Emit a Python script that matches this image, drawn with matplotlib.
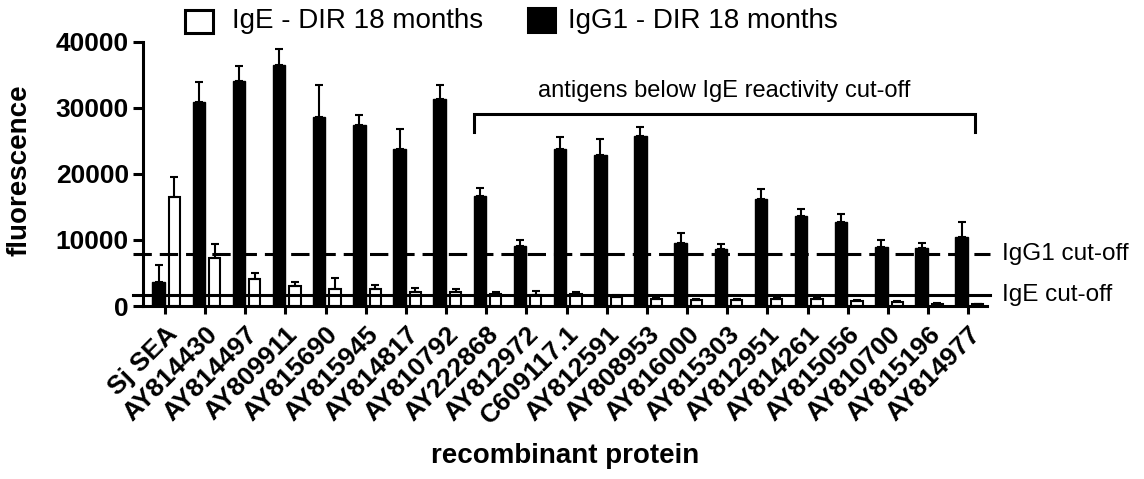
import matplotlib
matplotlib.use("Agg")
import matplotlib.pyplot as plt
from matplotlib.patches import Rectangle
import numpy as np

plt.rcParams['font.family'] = ['Liberation Sans', 'DejaVu Sans']

categories = ["Sj SEA", "AY814430", "AY814497", "AY809911", "AY815690", "AY815945",
              "AY814817", "AY810792", "AY222868", "AY812972", "C609117.1", "AY812591",
              "AY808953", "AY816000", "AY815303", "AY812951", "AY814261", "AY815056",
              "AY810700", "AY815196", "AY814977"]

ige_name = "IgE - DIR 18 months"
igg1_name = "IgG1 - DIR 18 months"

igg1_mean = [3700, 30900, 34050, 36400, 28650, 27400, 23700, 31300, 16600, 9150, 23750,
             22850, 25700, 9500, 8600, 16200, 13650, 12750, 9000, 8800, 10500]
igg1_err = [2500, 3000, 2200, 2450, 4800, 1500, 3150, 2150, 1250, 850, 1850,
            2450, 1400, 1600, 800, 1500, 1000, 1100, 1000, 800, 2150]

ige_mean = [16450, 7200, 4050, 3050, 2550, 2550, 2150, 2050, 1800, 1700, 1800,
            1400, 1000, 900, 900, 1000, 1000, 800, 650, 350, 250]
ige_err = [3100, 2250, 900, 600, 1750, 600, 500, 450, 300, 600, 250,
           200, 150, 150, 200, 200, 200, 150, 120, 80, 60]

igg1_cutoff = 7800
ige_cutoff = 1600
bracket_label = "antigens below IgE reactivity cut-off"
bracket_first = "AY222868"

W, H = 1144, 479
fig = plt.figure(figsize=(W / 100, H / 100), dpi=100)
ax = fig.add_axes([143 / W, 1 - 306 / H, 844 / W, 264.3 / H])

x = np.arange(len(categories))
bw = 0.31
lw_axis = 2.2

ax.bar(x - 0.16, igg1_mean, width=bw, color='black', edgecolor='black',
       linewidth=1.0, zorder=2)
ax.bar(x + 0.235, ige_mean, width=0.28, color='white', edgecolor='black',
       linewidth=1.5, zorder=2)
ax.errorbar(x - 0.16, igg1_mean, yerr=[np.zeros(len(x)), igg1_err], fmt='none',
            ecolor='black', elinewidth=1.5, capsize=2.6, capthick=1.5, zorder=3)
ax.errorbar(x + 0.235, ige_mean, yerr=[np.zeros(len(x)), ige_err], fmt='none',
            ecolor='black', elinewidth=1.5, capsize=2.6, capthick=1.5, zorder=3)

# cut-off lines
xl0, xl1 = -0.80, 20.55
ax.plot([xl0, xl1], [igg1_cutoff, igg1_cutoff], color='black', lw=2.2,
        dashes=(6, 2.6), clip_on=False, zorder=4)
ax.plot([xl0, xl1], [ige_cutoff, ige_cutoff], color='black', lw=2.2,
        clip_on=False, zorder=4)

ax.set_xlim(-0.548, 20.47)
ax.set_ylim(0, 40000)
ax.set_yticks([0, 10000, 20000, 30000, 40000])
ax.set_yticklabels(["0", "10000", "20000", "30000", "40000"],
                   fontsize=19, fontweight='bold')
ax.set_xticks(x)
ax.set_xticklabels(categories, rotation=45, ha='right', va='top',
                   rotation_mode='anchor', fontsize=19, fontweight='bold')

for s in ['top', 'right']:
    ax.spines[s].set_visible(False)
for s in ['left', 'bottom']:
    ax.spines[s].set_linewidth(lw_axis)
ax.tick_params(axis='y', length=7.2, width=lw_axis, pad=3)
ax.tick_params(axis='x', length=5.5, width=lw_axis, pad=6)

ax.set_ylabel("fluorescence", fontsize=20, fontweight='bold')
ax.yaxis.set_label_coords(-0.131, 0.515)
ax.set_xlabel("recombinant protein", fontsize=20, fontweight='bold')
ax.xaxis.set_label_coords(0.5, -0.52)

# right-side cut-off labels
trans = ax.get_yaxis_transform()
ax.text(1.018, igg1_cutoff, "IgG1 cut-off", transform=trans, fontsize=17.5,
        va='center', ha='left')
ax.text(1.018, ige_cutoff, "IgE cut-off", transform=trans, fontsize=17.5,
        va='center', ha='left')

# bracket
b0 = categories.index(bracket_first) - 0.30
b1 = len(categories) - 1 + 0.17
ax.plot([b0, b0, b1, b1], [26300, 29050, 29050, 26300], color='black', lw=2.2,
        solid_joinstyle='miter', clip_on=False, zorder=4)
ax.text((b0 + b1) / 2, 30800, bracket_label, fontsize=17, ha='center',
        va='bottom')

# legend
fig.patches.append(Rectangle((185 / W, 1 - 33 / H), 28 / W, 23 / H,
                             transform=fig.transFigure, facecolor='white',
                             edgecolor='black', linewidth=2.2))
fig.text(232 / W, 1 - 21 / H, ige_name, fontsize=20, va='center', ha='left')
fig.patches.append(Rectangle((528 / W, 1 - 32 / H), 27 / W, 24 / H,
                             transform=fig.transFigure, facecolor='black',
                             edgecolor='black', linewidth=2.2))
fig.text(568 / W, 1 - 21 / H, igg1_name, fontsize=20, va='center', ha='left')

fig.savefig("out.png", dpi=100)
